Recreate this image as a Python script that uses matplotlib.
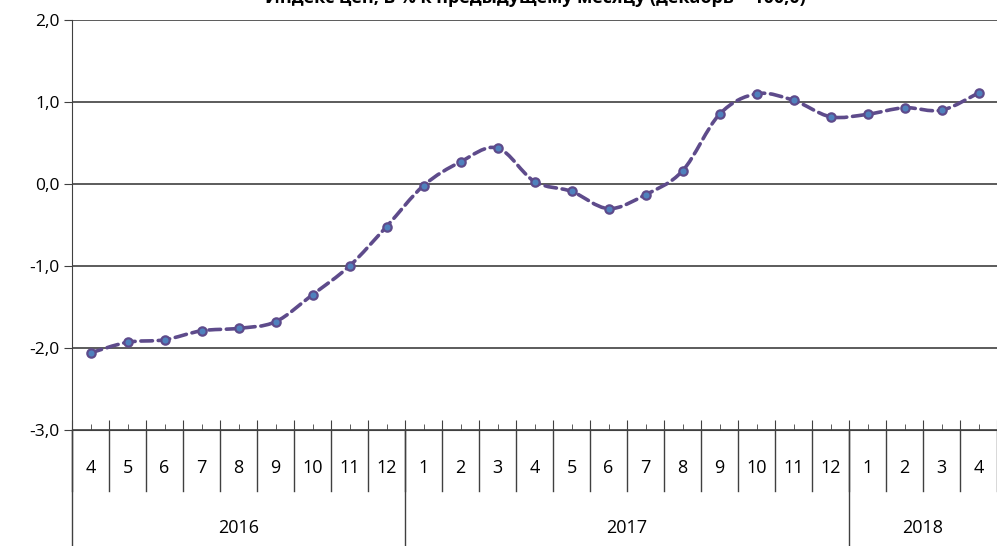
import matplotlib.pyplot as plt
import numpy as np
from matplotlib.path import Path
from matplotlib.patches import PathPatch
import matplotlib.transforms as mtransforms

plt.rcParams['font.family'] = ['Open Sans', 'DejaVu Sans']

# data
months = ['4', '5', '6', '7', '8', '9', '10', '11', '12',
          '1', '2', '3', '4', '5', '6', '7', '8', '9', '10', '11', '12',
          '1', '2', '3', '4']
years = ['2016', '2017', '2018']
year_counts = [9, 12, 4]
values = [-2.06, -1.93, -1.90, -1.79, -1.76, -1.68, -1.35, -1.00, -0.52,
          -0.02, 0.27, 0.44, 0.03, -0.09, -0.30, -0.13, 0.16, 0.85, 1.10,
          1.02, 0.82, 0.85, 0.93, 0.90, 1.11]
title = 'Индекс цен, в % к предыдущему месяцу (декабрь = 100,0)'

line_col = '#5E4B8B'
mark_col = '#4F81BD'

fig = plt.figure(figsize=(9.97, 5.46), dpi=100)
ax = fig.add_axes([72/997, 116/546, 925/997, 410/546])

x = np.arange(len(values))
y = np.array(values)

# smoothed line like excel (bezier segments through the points)
verts = [(x[0], y[0])]
codes = [Path.MOVETO]
n = len(x)
for i in range(n - 1):
    p0 = np.array([x[max(i-1, 0)], y[max(i-1, 0)]])
    p1 = np.array([x[i], y[i]])
    p2 = np.array([x[i+1], y[i+1]])
    p3 = np.array([x[min(i+2, n-1)], y[min(i+2, n-1)]])
    c1 = p1 + (p2 - p0) / 6.
    c2 = p2 - (p3 - p1) / 6.
    verts += [tuple(c1), tuple(c2), tuple(p2)]
    codes += [Path.CURVE4] * 3
patch = PathPatch(Path(verts, codes), facecolor='none', edgecolor=line_col,
                  lw=2.6, linestyle=(0, (3.2, 1.6)), zorder=3, capstyle='round')
ax.add_patch(patch)
ax.plot(x, y, 'o', ms=6, mfc=mark_col, mec=line_col, mew=1.6, zorder=4)

ax.set_xlim(-0.5, len(values) - 0.5)
ax.set_ylim(-3, 2)
ax.set_yticks(np.arange(-3, 2.1, 1))
ax.yaxis.set_major_formatter(plt.FuncFormatter(lambda v, p: ('%.1f' % v).replace('.', ',')))
ax.grid(axis='y', color='#404040', lw=1.2)
ax.set_axisbelow(True)
for s in ['top', 'right']:
    ax.spines[s].set_visible(False)
ax.spines['left'].set_color('#404040')
ax.spines['bottom'].set_color('#404040')
ax.tick_params(axis='y', length=6, color='#404040', pad=3, labelsize=12.5)

# category ticks
ax.set_xticks(np.arange(len(values) + 1) - 0.5)
ax.set_xticklabels([])
ax.set_xticks(x, minor=True)
ax.tick_params(axis='x', which='major', direction='in', length=7, color='#404040')
ax.tick_params(axis='x', which='minor', direction='in', length=4, color='#404040')

trans = mtransforms.blended_transform_factory(ax.transData, ax.transAxes)
row1 = -61/410
row2 = -116/410
for i in range(len(values) + 1):
    ax.plot([i - 0.5, i - 0.5], [0, row1], color='#404040', lw=1,
            transform=trans, clip_on=False)
for i, m in enumerate(months):
    ax.text(i, -38/410, m, transform=trans, ha='center', va='center', fontsize=13)

start = 0
bounds = [0]
for yr, c in zip(years, year_counts):
    mid = start + c / 2. - 0.5
    ax.text(mid, -98/410, yr, transform=trans, ha='center', va='center', fontsize=13)
    start += c
    bounds.append(start)
for b in bounds[:-1]:
    ax.plot([b - 0.5, b - 0.5], [0, row2], color='#404040', lw=1,
            transform=trans, clip_on=False)

# title is cut off at the top edge, as in the source picture
fig.text(535/997, 1 - 3/546, title, ha='center', va='baseline',
         fontsize=13, fontweight='bold')

plt.savefig('out.png', dpi=100)
